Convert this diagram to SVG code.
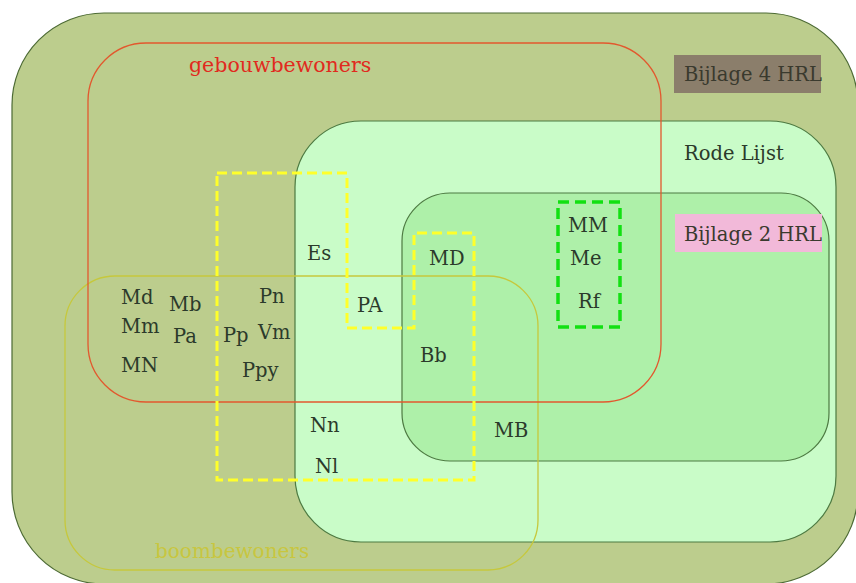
<svg xmlns="http://www.w3.org/2000/svg" width="856" height="583" viewBox="0 0 856 583">
<style>
.lbl{font-family:"DejaVu Serif","Liberation Serif",serif;font-size:19.5px;fill:#2b3a2b}
.title{font-family:"DejaVu Serif","Liberation Serif",serif;font-size:19.5px}
.dash-y{fill:none;stroke:#ffff2a;stroke-width:3;stroke-dasharray:10 5}
.dash-g{fill:none;stroke:#12e012;stroke-width:3.5;stroke-dasharray:11 6}
</style>
<rect width="856" height="583" fill="#ffffff"/>
<g id="bijlage4">
<rect x="12" y="13" width="846" height="571" rx="92" fill="#bccd8d" stroke="#4c6a34" stroke-width="1.2"/>
<rect x="674" y="55" width="147" height="38" fill="#8b7e6b"/>
<text class="title" x="684" y="81" fill="#3a3a2e">Bijlage 4 HRL</text>
</g>
<g id="rodelijst">
<rect x="295" y="121" width="541" height="421" rx="66" fill="#c9fcc8" stroke="#4d7a42" stroke-width="1.2"/>
<text class="title" x="684" y="160" fill="#2b3a2b">Rode Lijst</text>
</g>
<g id="bijlage2">
<rect x="402" y="193" width="427" height="268" rx="48" fill="#aef0a9" stroke="#4d7a42" stroke-width="1.2"/>
<rect x="675" y="214" width="147" height="38" fill="#f2b9d9"/>
<text class="title" x="684" y="241" fill="#3a3a2e">Bijlage 2 HRL</text>
</g>
<g id="boombewoners">
<rect x="65" y="276" width="473" height="294" rx="50" fill="none" stroke="#c6c83c" stroke-width="1.3"/>
<text class="title" x="155" y="558" fill="#c8c640" style="font-size:20px">boombewoners</text>
</g>
<g id="gebouwbewoners">
<rect x="88" y="43" width="573" height="359" rx="58" fill="none" stroke="#e2582e" stroke-width="1.3"/>
<text class="title" x="189" y="72" fill="#e12a1e" style="font-size:20.5px">gebouwbewoners</text>
</g>
<g id="yellow-group">
<path class="dash-y" d="M217,173 H347 V328 H414 V233 H474 V480 H217 Z"/>
</g>
<g id="green-group">
<rect class="dash-g" x="558" y="202" width="62" height="125"/>
</g>
<g id="species">
<text class="lbl" x="307" y="260">Es</text>
<text class="lbl" x="429" y="265">MD</text>
<text class="lbl" x="568" y="232">MM</text>
<text class="lbl" x="570" y="265">Me</text>
<text class="lbl" x="578" y="308">Rf</text>
<text class="lbl" x="357" y="312">PA</text>
<text class="lbl" x="121" y="304">Md</text>
<text class="lbl" x="169" y="311">Mb</text>
<text class="lbl" x="259" y="303">Pn</text>
<text class="lbl" x="121" y="333">Mm</text>
<text class="lbl" x="173" y="343">Pa</text>
<text class="lbl" x="223" y="342">Pp</text>
<text class="lbl" x="258" y="339">Vm</text>
<text class="lbl" x="121" y="372">MN</text>
<text class="lbl" x="242" y="377">Ppy</text>
<text class="lbl" x="420" y="362">Bb</text>
<text class="lbl" x="310" y="432">Nn</text>
<text class="lbl" x="315" y="473">Nl</text>
<text class="lbl" x="494" y="437">MB</text>
</g>
</svg>
